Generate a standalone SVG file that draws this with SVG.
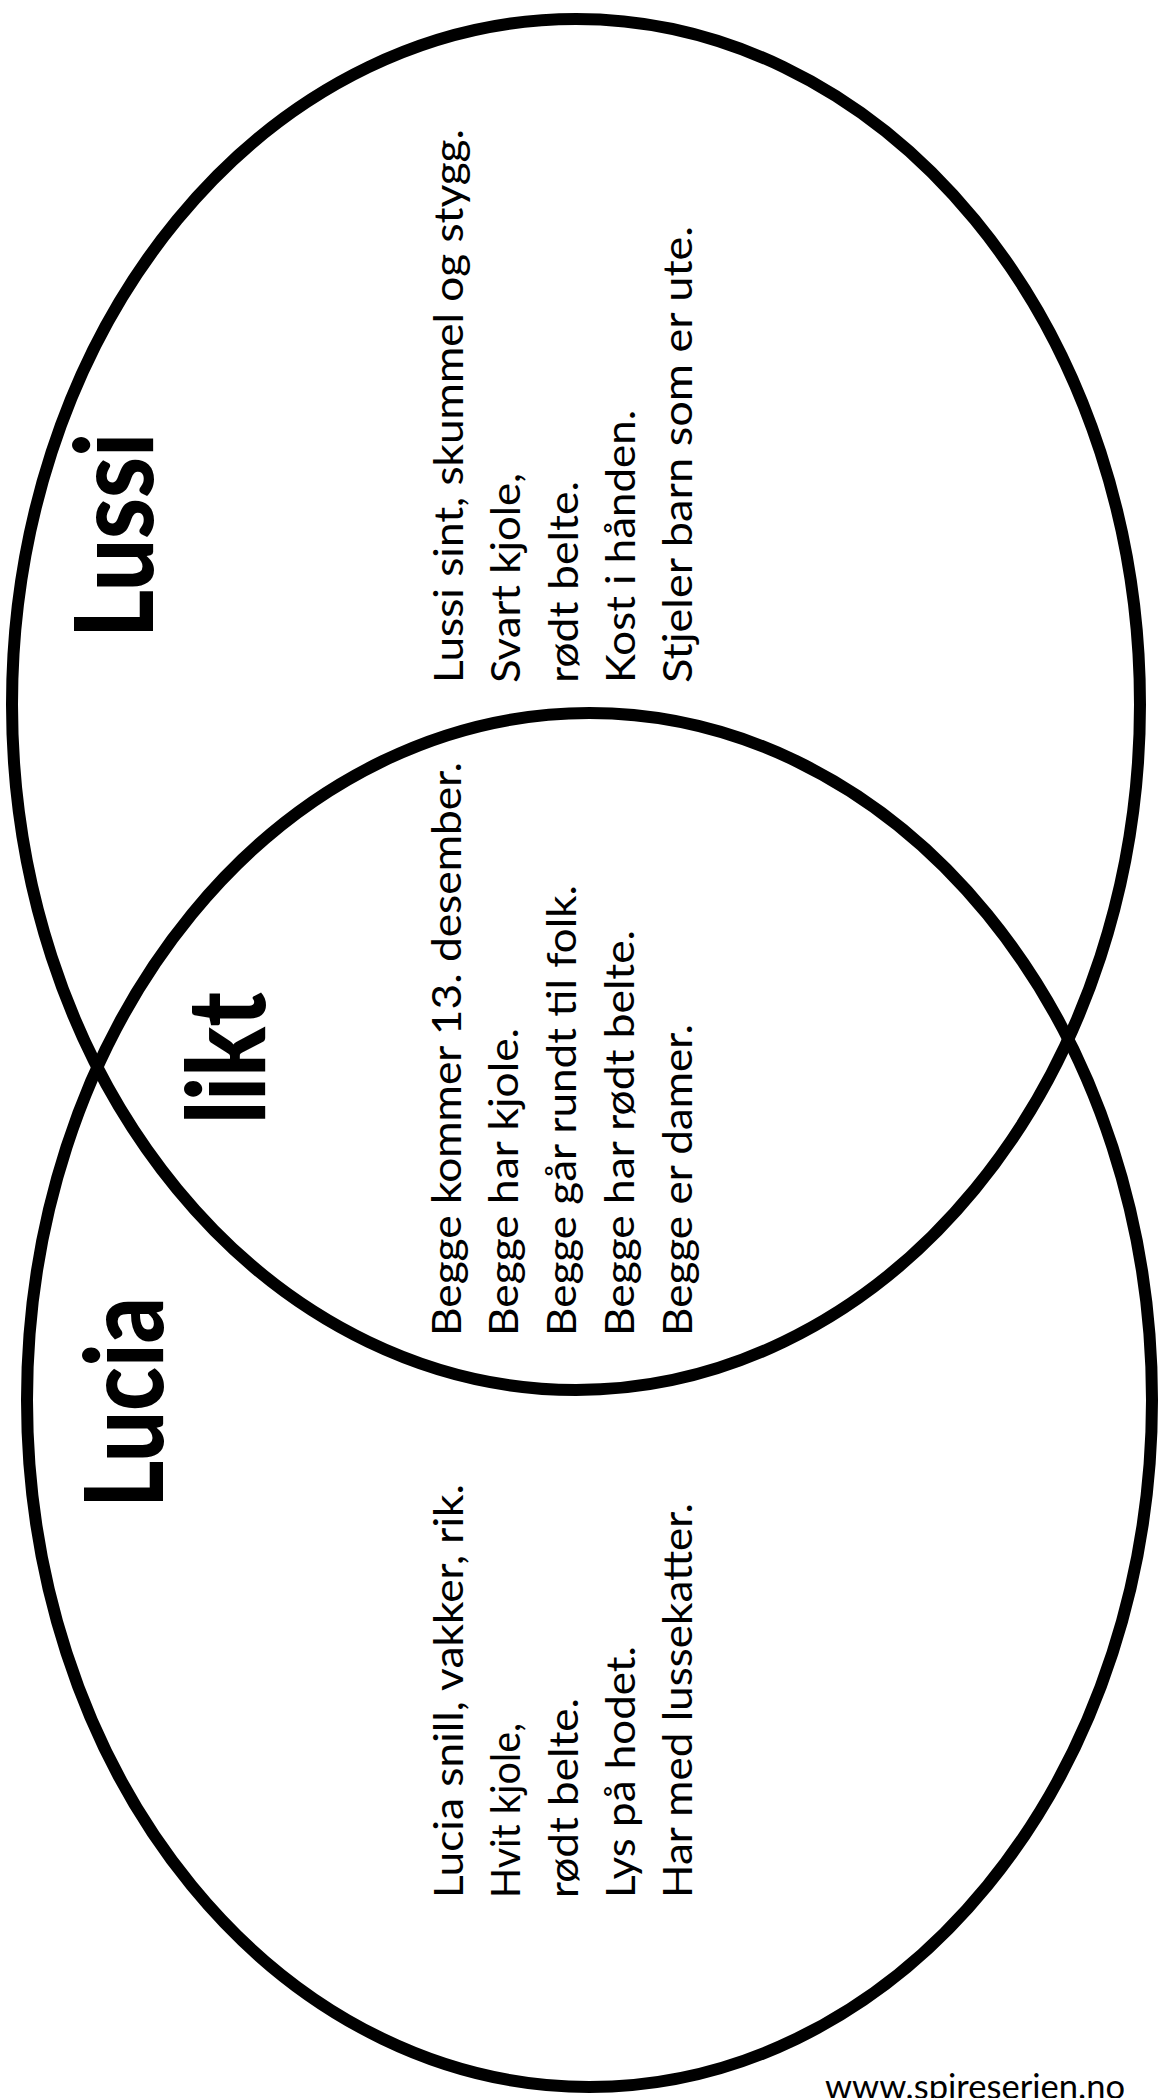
<svg xmlns="http://www.w3.org/2000/svg" width="1159" height="2098" viewBox="0 0 1159 2098">
<style>
.ring{fill:none;stroke:#000;stroke-width:12}
.body{font-family:Lato,"Liberation Sans",sans-serif;font-size:40px;fill:#000}
.title{font-family:Lato,"Open Sans",sans-serif;font-weight:900;font-size:108px;fill:#000}
.foot{font-family:Lato,"Liberation Sans",sans-serif;font-size:34px;fill:#000}
</style>
<rect width="1159" height="2098" fill="#fff"/>
<g id="set-lussi">
<ellipse class="ring" cx="576" cy="704.5" rx="564" ry="685.5"/>
<text class="title" transform="translate(153,638) rotate(-90)" textLength="205" lengthAdjust="spacingAndGlyphs">Lussi</text>
<g class="body">
<text transform="translate(463,683) rotate(-90)" textLength="554" lengthAdjust="spacingAndGlyphs">Lussi sint, skummel og stygg.</text>
<text transform="translate(520,683) rotate(-90)" textLength="210" lengthAdjust="spacingAndGlyphs">Svart kjole,</text>
<text transform="translate(578,683) rotate(-90)" textLength="202" lengthAdjust="spacingAndGlyphs">rødt belte.</text>
<text transform="translate(635,683) rotate(-90)" textLength="273" lengthAdjust="spacingAndGlyphs">Kost i hånden.</text>
<text transform="translate(692,683) rotate(-90)" textLength="457" lengthAdjust="spacingAndGlyphs">Stjeler barn som er ute.</text>
</g>
</g>
<g id="set-lucia">
<ellipse class="ring" cx="589.5" cy="1400" rx="562.5" ry="687"/>
<text class="title" transform="translate(163,1508) rotate(-90)" textLength="211" lengthAdjust="spacingAndGlyphs">Lucia</text>
<g class="body">
<text transform="translate(463,1898) rotate(-90)" textLength="414" lengthAdjust="spacingAndGlyphs">Lucia snill, vakker, rik.</text>
<text transform="translate(520,1898) rotate(-90)" textLength="175" lengthAdjust="spacingAndGlyphs">Hvit kjole,</text>
<text transform="translate(578,1898) rotate(-90)" textLength="200" lengthAdjust="spacingAndGlyphs">rødt belte.</text>
<text transform="translate(635,1898) rotate(-90)" textLength="252" lengthAdjust="spacingAndGlyphs">Lys på hodet.</text>
<text transform="translate(692,1898) rotate(-90)" textLength="395" lengthAdjust="spacingAndGlyphs">Har med lussekatter.</text>
</g>
</g>
<g id="overlap-likt">
<text class="title" transform="translate(265,1124) rotate(-90)" textLength="132" lengthAdjust="spacingAndGlyphs">likt</text>
<g class="body">
<text transform="translate(461,1336) rotate(-90)" textLength="574" lengthAdjust="spacingAndGlyphs">Begge kommer 13. desember.</text>
<text transform="translate(518,1336) rotate(-90)" textLength="308" lengthAdjust="spacingAndGlyphs">Begge har kjole.</text>
<text transform="translate(576,1336) rotate(-90)" textLength="451" lengthAdjust="spacingAndGlyphs">Begge går rundt til folk.</text>
<text transform="translate(634,1336) rotate(-90)" textLength="406" lengthAdjust="spacingAndGlyphs">Begge har rødt belte.</text>
<text transform="translate(692,1336) rotate(-90)" textLength="312" lengthAdjust="spacingAndGlyphs">Begge er damer.</text>
</g>
</g>
<g id="connectors"/>
<g id="footer">
<text class="foot" x="825" y="2099" textLength="300" lengthAdjust="spacingAndGlyphs">www.spireserien.no</text>
</g>
</svg>
